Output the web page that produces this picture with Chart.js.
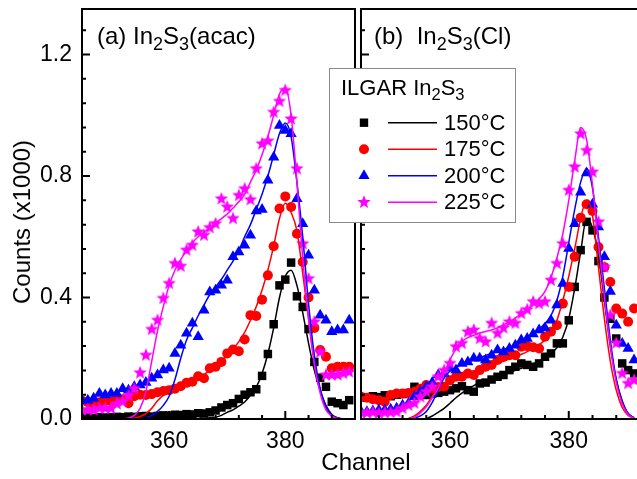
<!DOCTYPE html>
<html>
<head>
<meta charset="utf-8">
<script src="https://cdn.jsdelivr.net/npm/chart.js@4.4.1/dist/chart.umd.min.js"></script>
<style>
  html, body { margin: 0; padding: 0; background: #fff; }
  #wrap {
    position: relative; width: 637px; height: 479px; overflow: hidden; background: #fff;
    font-family: "Liberation Sans", Arial, sans-serif; color: #000;
  }
  canvas { position: absolute; top: 0; }
  #chartA { left: 0; }
  #chartB { left: 351px; }
  .lbl { position: absolute; white-space: nowrap; line-height: 1; }
  .sub { position: relative; top: 0.32em; font-size: 0.75em; }
  #ytitle { left: 22px; top: 222px; font-size: 24px; transform: translate(-50%, -50%) rotate(-90deg); }
  #xtitle { left: 366px; top: 462px; font-size: 24px; transform: translate(-50%, -50%); }
  #panelA { left: 97px; top: 24px; font-size: 24px; }
  #panelB { left: 374px; top: 24px; font-size: 24px; }
  #legend {
    position: absolute; left: 329px; top: 68px; width: 185px; height: 153px;
    border: 1px solid #8a8a8a; background: #fff;
  }
  #legendIcons { position: absolute; left: 0; top: 0; }
  #legend .lbl { font-size: 22px; }
</style>
</head>
<body>
<div id="wrap">
  <canvas id="chartA" width="362" height="479"></canvas>
  <canvas id="chartB" width="300" height="479"></canvas>
  <div class="lbl" id="ytitle">Counts (x1000)</div>
  <div class="lbl" id="xtitle">Channel</div>
  <div class="lbl" id="panelA">(a) In<span class="sub">2</span>S<span class="sub">3</span>(acac)</div>
  <div class="lbl" id="panelB">(b)&nbsp; In<span class="sub">2</span>S<span class="sub">3</span>(Cl)</div>
  <div id="legend">
    <canvas id="legendIcons" width="185" height="153"></canvas>
    <div class="lbl" style="left:11px; top:8px;">ILGAR In<span class="sub">2</span>S<span class="sub">3</span></div>
    <div class="lbl" style="left:114px; top:43px;">150°C</div>
    <div class="lbl" style="left:114px; top:69px;">175°C</div>
    <div class="lbl" style="left:114px; top:96px;">200°C</div>
    <div class="lbl" style="left:114px; top:122px;">225°C</div>
  </div>
</div>
<script>
// channel axis shared by every series
const channels = [345, 346, 347, 348, 349, 350, 351, 352, 353, 354,
  355, 356, 357, 358, 359, 360, 361, 362, 363, 364,
  365, 366, 367, 368, 369, 370, 371, 372, 373, 374,
  375, 376, 377, 378, 379, 380, 381, 382, 383, 384,
  385, 386, 387, 388, 389, 390, 391];

const temps = ['150°C', '175°C', '200°C', '225°C'];
const seriesColors = ['#000000', '#ff0000', '#0000ff', '#ff00ff'];

// (a) In2S3(acac): measured counts and fitted curves
const a150 = [0.005, 0.005, 0.004, 0.006, 0.005, 0.006, 0.007, 0.006, 0.008, 0.007,
  0.009, 0.010, 0.008, 0.010, 0.012, 0.011, 0.014, 0.013, 0.016, 0.015,
  0.019, 0.018, 0.022, 0.028, 0.038, 0.046, 0.052, 0.066, 0.080, 0.088,
  0.098, 0.142, 0.214, 0.312, 0.440, 0.459, 0.515, 0.404, 0.369, 0.296,
  0.188, 0.136, 0.106, 0.057, 0.052, 0.046, 0.062];
const a150fit = [0, 0, 0, 0, 0, 0, 0, 0, 0, 0,
  0, 0, 0, 0, 0, 0, 0, 0, 0, 0,
  0.001, 0.002, 0.004, 0.006, 0.012, 0.022, 0.030, 0.042, 0.056, 0.078,
  0.105, 0.150, 0.215, 0.300, 0.400, 0.470, 0.490, 0.440, 0.350, 0.250,
  0.160, 0.095, 0.045, 0.015, 0.004, 0, 0];
const a175 = [0.060, 0.055, 0.050, 0.055, 0.060, 0.058, 0.062, 0.065, 0.052, 0.075,
  0.080, 0.079, 0.082, 0.088, 0.092, 0.095, 0.100, 0.108, 0.119, 0.123,
  0.141, 0.134, 0.167, 0.172, 0.188, 0.216, 0.229, 0.223, 0.262, 0.342,
  0.339, 0.393, 0.473, 0.569, 0.693, 0.733, 0.698, 0.610, 0.517, 0.400,
  0.300, 0.227, 0.205, 0.167, 0.172, 0.172, 0.172];
const a175fit = [0, 0, 0, 0, 0, 0, 0, 0, 0, 0.003,
  0.008, 0.018, 0.035, 0.060, 0.078, 0.088, 0.095, 0.103, 0.112, 0.122,
  0.133, 0.146, 0.160, 0.175, 0.192, 0.210, 0.230, 0.255, 0.285, 0.325,
  0.370, 0.425, 0.490, 0.570, 0.660, 0.710, 0.680, 0.620, 0.480, 0.330,
  0.190, 0.095, 0.035, 0.010, 0.002, 0, 0];
const a200 = [0.060, 0.062, 0.068, 0.084, 0.079, 0.084, 0.084, 0.100, 0.095, 0.106,
  0.112, 0.120, 0.134, 0.145, 0.161, 0.167, 0.216, 0.243, 0.282, 0.315,
  0.271, 0.358, 0.418, 0.424, 0.440, 0.457, 0.534, 0.550, 0.572, 0.605,
  0.685, 0.690, 0.786, 0.862, 0.966, 0.950, 0.939, 0.725, 0.643, 0.539,
  0.424, 0.342, 0.325, 0.287, 0.293, 0.293, 0.325];
const a200fit = [0, 0, 0, 0, 0, 0, 0, 0, 0, 0,
  0, 0.005, 0.012, 0.025, 0.045, 0.075, 0.130, 0.200, 0.260, 0.300,
  0.340, 0.375, 0.410, 0.435, 0.460, 0.490, 0.520, 0.555, 0.600, 0.640,
  0.690, 0.740, 0.800, 0.870, 0.940, 0.975, 0.930, 0.780, 0.600, 0.380,
  0.210, 0.100, 0.040, 0.012, 0.003, 0, 0];
const a225 = [0.030, 0.030, 0.030, 0.035, 0.035, 0.035, 0.050, 0.057, 0.077, 0.100,
  0.152, 0.210, 0.295, 0.325, 0.397, 0.446, 0.512, 0.503, 0.556, 0.572,
  0.616, 0.605, 0.630, 0.643, 0.725, 0.698, 0.660, 0.736, 0.758, 0.722,
  0.824, 0.906, 0.915, 1.010, 1.046, 1.082, 0.988, 0.824, 0.577, 0.462,
  0.320, 0.220, 0.145, 0.145, 0.145, 0.150, 0.155];
const a225fit = [0, 0, 0, 0, 0, 0, 0, 0, 0.003, 0.012,
  0.035, 0.090, 0.190, 0.290, 0.370, 0.440, 0.490, 0.525, 0.555, 0.580,
  0.600, 0.615, 0.630, 0.645, 0.660, 0.675, 0.695, 0.715, 0.740, 0.780,
  0.820, 0.870, 0.930, 1.000, 1.070, 1.090, 1.000, 0.780, 0.530, 0.330,
  0.180, 0.085, 0.030, 0.010, 0.002, 0, 0];

// (b) In2S3(Cl)
const b150 = [0.072, 0.070, 0.075, 0.072, 0.078, 0.075, 0.080, 0.082, 0.085, 0.106,
  0.090, 0.079, 0.084, 0.086, 0.090, 0.095, 0.101, 0.108, 0.095, 0.090,
  0.117, 0.120, 0.130, 0.139, 0.145, 0.161, 0.172, 0.183, 0.178, 0.172,
  0.183, 0.205, 0.216, 0.249, 0.249, 0.325, 0.435, 0.556, 0.649, 0.621,
  0.520, 0.400, 0.330, 0.265, 0.183, 0.161, 0.150];
const b150fit = [0, 0, 0, 0, 0, 0, 0, 0, 0, 0,
  0, 0.002, 0.010, 0.022, 0.035, 0.052, 0.070, 0.085, 0.098, 0.110,
  0.120, 0.127, 0.133, 0.139, 0.145, 0.152, 0.160, 0.167, 0.174, 0.182,
  0.190, 0.200, 0.215, 0.235, 0.270, 0.330, 0.430, 0.550, 0.660, 0.630,
  0.540, 0.390, 0.240, 0.130, 0.060, 0.018, 0.004];
const b175 = [0.073, 0.070, 0.065, 0.062, 0.057, 0.079, 0.084, 0.084, 0.086, 0.090,
  0.100, 0.112, 0.100, 0.105, 0.106, 0.128, 0.139, 0.139, 0.150, 0.145,
  0.161, 0.172, 0.178, 0.194, 0.205, 0.210, 0.210, 0.238, 0.240, 0.236,
  0.232, 0.271, 0.287, 0.309, 0.380, 0.435, 0.534, 0.663, 0.707, 0.685,
  0.566, 0.500, 0.451, 0.364, 0.347, 0.320, 0.364];
const b175fit = [0, 0, 0, 0, 0, 0, 0, 0, 0.002, 0.010,
  0.025, 0.045, 0.075, 0.098, 0.112, 0.122, 0.130, 0.138, 0.146, 0.153,
  0.161, 0.168, 0.175, 0.183, 0.190, 0.197, 0.205, 0.213, 0.222, 0.232,
  0.245, 0.260, 0.285, 0.325, 0.390, 0.470, 0.560, 0.660, 0.720, 0.670,
  0.500, 0.330, 0.190, 0.095, 0.038, 0.012, 0.003];
const b200 = [0.025, 0.024, 0.026, 0.030, 0.030, 0.032, 0.035, 0.045, 0.052, 0.073,
  0.090, 0.106, 0.120, 0.145, 0.150, 0.167, 0.161, 0.183, 0.188, 0.200,
  0.200, 0.194, 0.210, 0.227, 0.221, 0.232, 0.243, 0.260, 0.265, 0.280,
  0.293, 0.300, 0.325, 0.375, 0.446, 0.561, 0.643, 0.747, 0.810, 0.707,
  0.632, 0.534, 0.420, 0.309, 0.249, 0.232, 0.194];
const b200fit = [0, 0, 0, 0, 0, 0, 0, 0, 0, 0.002,
  0.010, 0.025, 0.055, 0.095, 0.135, 0.158, 0.170, 0.180, 0.188, 0.195,
  0.202, 0.209, 0.216, 0.222, 0.229, 0.236, 0.244, 0.253, 0.264, 0.278,
  0.295, 0.315, 0.340, 0.390, 0.470, 0.580, 0.690, 0.780, 0.825, 0.760,
  0.600, 0.430, 0.260, 0.130, 0.055, 0.018, 0.004];
const b225 = [0.021, 0.020, 0.022, 0.019, 0.021, 0.022, 0.024, 0.035, 0.045, 0.052,
  0.073, 0.090, 0.106, 0.139, 0.160, 0.183, 0.238, 0.249, 0.287, 0.293,
  0.265, 0.254, 0.315, 0.282, 0.300, 0.320, 0.315, 0.347, 0.360, 0.386,
  0.380, 0.386, 0.457, 0.512, 0.577, 0.753, 0.830, 0.939, 0.884, 0.813,
  0.649, 0.500, 0.342, 0.250, 0.150, 0.117, 0.128];
const b225fit = [0, 0, 0, 0, 0, 0, 0, 0, 0, 0.005,
  0.020, 0.040, 0.070, 0.100, 0.150, 0.195, 0.230, 0.255, 0.268, 0.276,
  0.283, 0.288, 0.293, 0.300, 0.310, 0.320, 0.333, 0.347, 0.360, 0.375,
  0.395, 0.420, 0.465, 0.530, 0.610, 0.720, 0.850, 0.960, 0.920, 0.770,
  0.580, 0.400, 0.240, 0.120, 0.050, 0.015, 0.003];

Chart.defaults.font.family = '"Liberation Sans", Arial, sans-serif';
Chart.defaults.color = '#000';

function starPath(ctx, cx, cy, R, r) {
  ctx.beginPath();
  for (let i = 0; i < 10; i++) {
    const rad = i % 2 ? r : R;
    const ang = -Math.PI / 2 + i * Math.PI / 5;
    ctx.lineTo(cx + rad * Math.cos(ang), cy + rad * Math.sin(ang));
  }
  ctx.closePath();
}

// filled five-point star used as a point style
const starImg = document.createElement('canvas');
starImg.width = 16;
starImg.height = 16;
(function () {
  const c = starImg.getContext('2d');
  c.fillStyle = seriesColors[3];
  starPath(c, 8, 8, 7, 3);
  c.fill();
})();

const markers = [
  { pointStyle: 'rect', pointRadius: 6 },
  { pointStyle: 'circle', pointRadius: 5 },
  { pointStyle: 'triangle', pointRadius: 6.5 },
  { pointStyle: starImg, pointRadius: 7 }
];

function pts(vals) {
  return channels.map((c, i) => ({ x: c, y: vals[i] }));
}

function buildDatasets(measured, fits) {
  const sets = [];
  // fitted curves sit on top of the symbols
  fits.forEach((vals, k) => {
    sets.push({
      type: 'line',
      data: pts(vals),
      borderColor: seriesColors[k],
      borderWidth: 1.5,
      pointRadius: 0,
      fill: false,
      cubicInterpolationMode: 'monotone',
      order: 3 - k
    });
  });
  measured.forEach((vals, k) => {
    sets.push({
      type: 'line',
      data: pts(vals),
      showLine: false,
      pointStyle: markers[k].pointStyle,
      pointRadius: markers[k].pointRadius,
      pointBackgroundColor: seriesColors[k],
      pointBorderColor: seriesColors[k],
      pointBorderWidth: 0,
      order: 10 - k
    });
  });
  return sets;
}

// frame and inward tick marks
const frameTicks = {
  id: 'frameTicks',
  afterDatasetsDraw(chart) {
    const { ctx, chartArea: a, scales: { x, y } } = chart;
    ctx.save();
    ctx.strokeStyle = '#000';
    ctx.lineWidth = 2;
    ctx.beginPath();
    for (let v = 348; v <= 392; v += 4) {
      const px = x.getPixelForValue(v);
      const len = v % 20 === 0 ? 8 : 4;
      ctx.moveTo(px, a.bottom);
      ctx.lineTo(px, a.bottom - len);
    }
    for (let k = 1; k <= 16; k++) {
      const py = y.getPixelForValue(k * 0.08);
      const len = k % 5 === 0 ? 8 : 4;
      ctx.moveTo(a.left, py);
      ctx.lineTo(a.left + len, py);
    }
    ctx.stroke();
    ctx.strokeRect(a.left, a.top, a.right - a.left, a.bottom - a.top);
    ctx.restore();
  }
};

function panelOptions(showYLabels, yAxisWidth, padRight) {
  return {
    responsive: false,
    animation: false,
    events: [],
    layout: { padding: { top: 9, right: padRight, left: 0, bottom: 0 } },
    plugins: { legend: { display: false }, tooltip: { enabled: false } },
    scales: {
      x: {
        type: 'linear',
        min: 345,
        max: 392,
        grid: { display: false, drawTicks: false },
        border: { display: false },
        ticks: { stepSize: 20, includeBounds: false, padding: 9, font: { size: 23 } },
        afterFit: s => { s.height = 60; s.paddingLeft = 0; s.paddingRight = 0; }
      },
      y: {
        type: 'linear',
        min: 0,
        max: 1.35,
        grid: { display: false, drawTicks: false },
        border: { display: false },
        ticks: {
          display: showYLabels,
          stepSize: 0.4,
          includeBounds: false,
          padding: 10,
          font: { size: 23 },
          callback: v => v.toFixed(1)
        },
        afterFit: s => { s.width = yAxisWidth; s.paddingTop = 0; s.paddingBottom = 0; }
      }
    }
  };
}

new Chart(document.getElementById('chartA'), {
  data: { datasets: buildDatasets([a150, a175, a200, a225], [a150fit, a175fit, a200fit, a225fit]) },
  options: panelOptions(true, 82, 1),
  plugins: [frameTicks]
});

new Chart(document.getElementById('chartB'), {
  data: { datasets: buildDatasets([b150, b175, b200, b225], [b150fit, b175fit, b200fit, b225fit]) },
  options: panelOptions(false, 10, 11),
  plugins: [frameTicks]
});

// legend symbols and line samples
(function drawLegendIcons() {
  const c = document.getElementById('legendIcons').getContext('2d');
  const rows = [53.7, 80.3, 106.7, 133.3];
  rows.forEach((cy, k) => {
    const col = seriesColors[k];
    c.fillStyle = col;
    c.strokeStyle = col;
    c.lineWidth = 1.5;
    c.beginPath();
    c.moveTo(58, cy);
    c.lineTo(107, cy);
    c.stroke();
    const mx = 34;
    if (k === 0) {
      c.fillRect(mx - 4.2, cy - 4.2, 8.4, 8.4);
    } else if (k === 1) {
      c.beginPath();
      c.arc(mx, cy, 5, 0, Math.PI * 2);
      c.fill();
    } else if (k === 2) {
      c.beginPath();
      c.moveTo(mx, cy - 6.5);
      c.lineTo(mx + 5.6, cy + 3.25);
      c.lineTo(mx - 5.6, cy + 3.25);
      c.closePath();
      c.fill();
    } else {
      starPath(c, mx, cy, 7, 3);
      c.fill();
    }
  });
})();
</script>
</body>
</html>
